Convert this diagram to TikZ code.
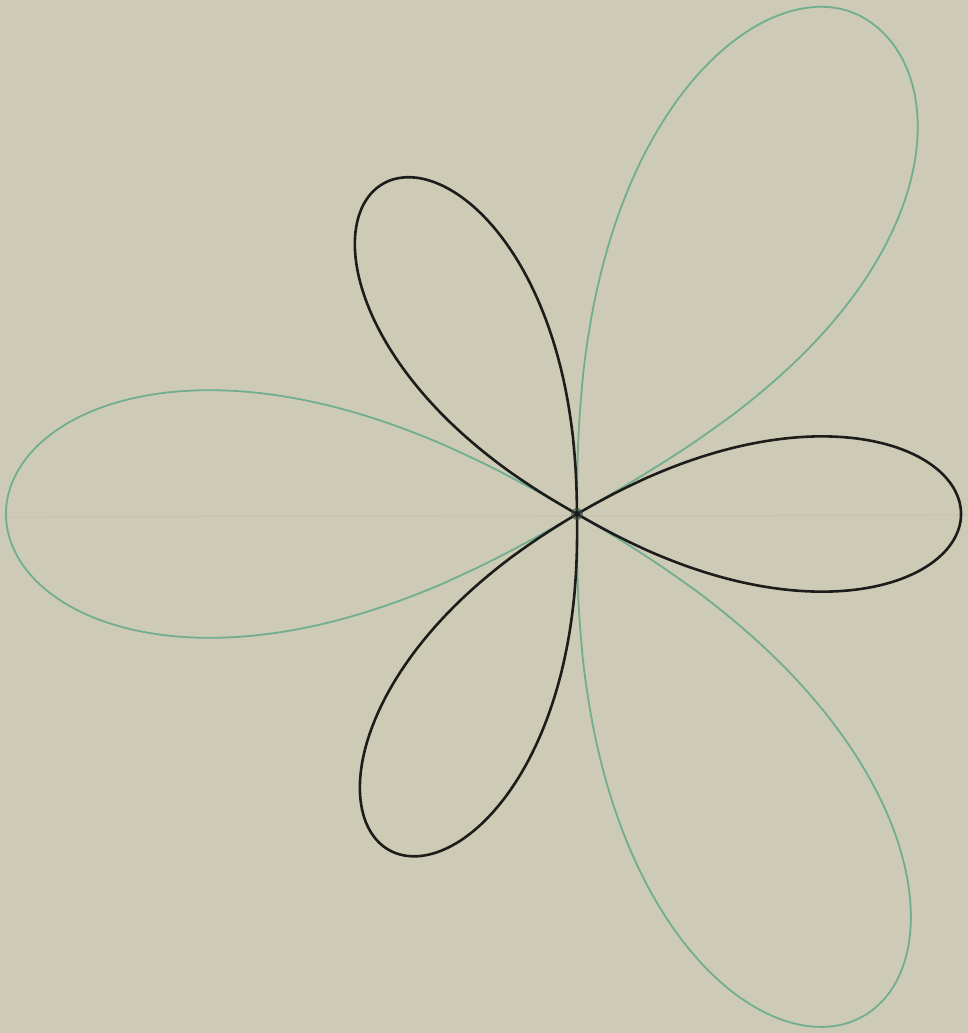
\documentclass[tikz,border=0pt]{standalone}
\definecolor{papercol}{RGB}{205,203,182}
\definecolor{greencol}{RGB}{112,174,143}
\definecolor{inkcol}{RGB}{28,28,26}
\definecolor{foldcol}{RGB}{197,195,174}
% #1 style, #2 axis angle (deg, y up), #3 length, #4 exponent clockwise side, #5 exponent anticlockwise side
\newcommand\drawpetal[5]{%
  \draw[#1] (O)
    -- plot[domain=-29.8:0, samples=90, variable=\t]
       ({577+#3*(max(cos(3*\t),0.0001))^#4*cos(#2+\t)}, {514-#3*(max(cos(3*\t),0.0001))^#4*sin(#2+\t)})
    -- plot[domain=0:29.8, samples=90, variable=\t]
       ({577+#3*(max(cos(3*\t),0.0001))^#5*cos(#2+\t)}, {514-#3*(max(cos(3*\t),0.0001))^#5*sin(#2+\t)})
    -- (O);}
\begin{document}
\begin{tikzpicture}[x=1pt,y=-1pt,
  paper/.style={fill=papercol},
  greenpetal/.style={draw=greencol, line width=1.8pt, line join=round, line cap=round},
  blackpetal/.style={draw=inkcol, line width=2.6pt, line join=round, line cap=round}]
\fill[paper] (0,0) rectangle (968,1033);
\useasboundingbox (0,0) rectangle (968,1033);
\coordinate (O) at (577,514);
% faint fold line
\draw[foldcol, line width=0.8pt] (0,517) -- (968,515);
% green petals
\drawpetal{greenpetal}{180}{571}{0.67}{0.67}
\drawpetal{greenpetal}{60.0}{573}{0.56}{0.7}
\drawpetal{greenpetal}{-60.3}{578}{0.7}{0.7}
% black petals
\drawpetal{blackpetal}{0}{384}{0.8}{0.8}
\drawpetal{blackpetal}{120.5}{383}{0.8}{0.8}
\drawpetal{blackpetal}{240.8}{385}{0.8}{0.8}
% centre blot
\fill[inkcol!70!greencol, opacity=0.6] (O) circle (6);
\fill[inkcol] (O) circle (3);
\end{tikzpicture}
\end{document}
